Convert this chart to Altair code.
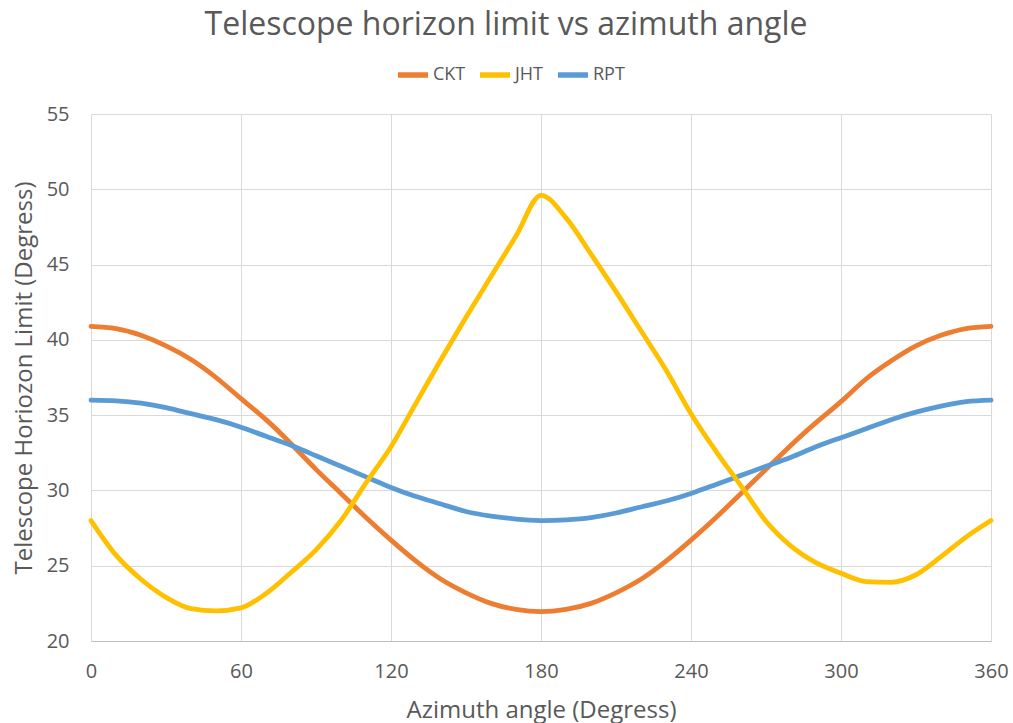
import altair as alt
import pandas as pd

# Azimuth sampled every 10 degrees
azimuth = list(range(0, 361, 10))

# Horizon limit (degrees) for each telescope
ckt = [40.9, 40.75, 40.3, 39.6, 38.7, 37.5, 36.1, 34.7, 33.1, 31.4,
       29.8, 28.2, 26.7, 25.3, 24.1, 23.2, 22.5, 22.1, 21.95, 22.1,
       22.5, 23.2, 24.1, 25.3, 26.7, 28.2, 29.8, 31.4, 33.0, 34.5,
       35.9, 37.4, 38.6, 39.6, 40.3, 40.75, 40.9]
jht = [28.0, 25.7, 24.1, 22.9, 22.15, 22.0, 22.2, 23.15, 24.55, 26.05,
       28.0, 30.5, 32.9, 35.8, 38.7, 41.5, 44.2, 46.9, 49.6, 48.1,
       45.7, 43.2, 40.6, 38.0, 35.1, 32.6, 30.3, 27.95, 26.3, 25.2,
       24.5, 23.95, 23.9, 24.4, 25.6, 26.9, 28.0]
rpt = [36.0, 35.95, 35.8, 35.5, 35.1, 34.7, 34.2, 33.6, 33.0, 32.3,
       31.6, 30.9, 30.2, 29.6, 29.1, 28.6, 28.3, 28.1, 28.0, 28.05,
       28.2, 28.5, 28.9, 29.3, 29.8, 30.4, 31.0, 31.6, 32.2, 32.9,
       33.5, 34.1, 34.7, 35.2, 35.6, 35.9, 36.0]

series_names = ["CKT", "JHT", "RPT"]
series_colors = ["#ED7D31", "#FFC000", "#5B9BD5"]
x_ticks = [0, 60, 120, 180, 240, 300, 360]
y_ticks = [20, 25, 30, 35, 40, 45, 50, 55]

frames = []
for name, vals in zip(series_names, [ckt, jht, rpt]):
    frames.append(pd.DataFrame({"azimuth": azimuth, "limit": vals, "telescope": name}))
df = pd.concat(frames, ignore_index=True)

FONT = "Open Sans"
TEXT = "#595959"

x_enc = alt.X(
    "azimuth:Q",
    scale=alt.Scale(domain=[0, 360], nice=False, zero=False),
    axis=alt.Axis(values=x_ticks, title="Azimuth angle (Degress)", titlePadding=17,
                  labelPadding=20, labelFlush=False, domain=True,
                  domainColor="#BFBFBF", domainWidth=1.2),
)
y_enc = alt.Y(
    "limit:Q",
    scale=alt.Scale(domain=[20, 55], nice=False, zero=False),
    axis=alt.Axis(values=y_ticks, title="Telescope Horiozon Limit (Degress)",
                  titlePadding=10, labelPadding=22, domain=False),
)
color_enc = alt.Color(
    "telescope:N",
    scale=alt.Scale(domain=series_names, range=series_colors),
    legend=alt.Legend(
        title=None, orient="none", direction="horizontal",
        legendX=304, legendY=-57,
        symbolType="stroke", symbolSize=900, symbolStrokeWidth=5.5,
        labelFont=FONT, labelFontSize=18, labelColor=TEXT, labelOffset=2,
        columnPadding=3,
    ),
)

base = alt.Chart(df).encode(x=x_enc, y=y_enc, color=color_enc)
line_style = dict(strokeWidth=4.8, strokeCap="round", strokeJoin="round")

# smooth cosine-like curves
smooth = base.mark_line(interpolate="natural", **line_style).transform_filter(
    alt.FieldOneOfPredicate(field="telescope", oneOf=["CKT", "RPT"])
)
# peaked curve keeps its sharp top
peaked = base.mark_line(interpolate="monotone", **line_style).transform_filter(
    alt.FieldEqualPredicate(field="telescope", equal="JHT")
)

chart = (
    alt.layer(smooth, peaked)
    .properties(
        width=900,
        height=527,
        title=alt.TitleParams(
            "Telescope horizon limit vs azimuth angle",
            font=FONT, fontSize=32, fontWeight="normal", color=TEXT,
            anchor="middle", dx=-35, offset=15,
        ),
        autosize=alt.AutoSizeParams(type="none"),
        padding={"left": 91, "top": 114, "right": 22, "bottom": 82},
    )
    .configure_view(stroke=None)
    .configure_axis(
        labelFont=FONT, labelFontSize=20, labelColor=TEXT,
        titleFont=FONT, titleFontSize=24, titleColor=TEXT, titleFontWeight="normal",
        ticks=False, grid=True, gridColor="#D9D9D9", gridWidth=1,
    )
)

chart.save("out.html", embed_options={"renderer": "svg", "actions": False})
